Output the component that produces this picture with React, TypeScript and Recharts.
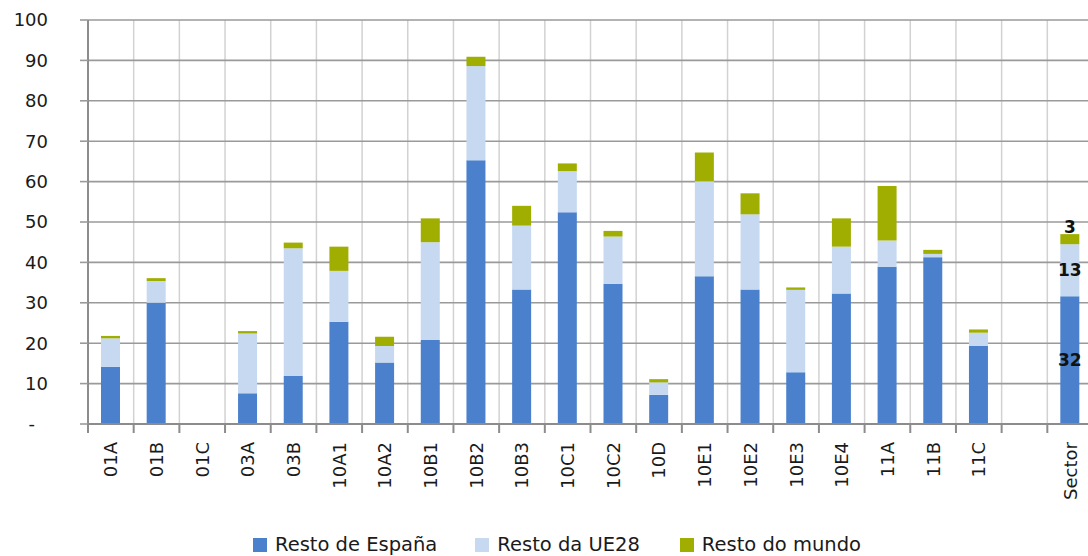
import React from "react";
import { BarChart, Bar, XAxis, YAxis, CartesianGrid, Legend, LabelList } from "recharts";

const categories = ["01A","01B","01C","03A","03B","10A1","10A2","10B1","10B2","10B3","10C1","10C2","10D","10E1","10E2","10E3","10E4","11A","11B","11C","","Sector"];
const restoEspana = [14.2,30.0,0,7.6,11.9,25.3,15.2,20.8,65.3,33.3,52.4,34.7,7.2,36.6,33.3,12.8,32.3,38.9,41.3,19.3,null,31.6];
const restoUE28 = [7.0,5.4,0,14.8,31.6,12.6,4.1,24.2,23.3,15.8,10.2,11.7,3.1,23.5,18.6,20.4,11.6,6.5,0.8,3.3,null,12.9];
const restoMundo = [0.6,0.7,0,0.6,1.4,6.0,2.3,5.9,2.3,4.9,1.9,1.4,0.8,7.1,5.2,0.6,7.0,13.5,1.0,0.8,null,2.5];
const yTicks = [0,10,20,30,40,50,60,70,80,90,100];
const labelledCategory = "Sector";

const seriesNames = ["Resto de España", "Resto da UE28", "Resto do mundo"];
const colors = ["#4A80CC", "#C6D9F1", "#9FAE00"];

const data = categories.map((c, i) => {
  const lab = c === labelledCategory;
  return {
    cat: c,
    es: restoEspana[i],
    ue: restoUE28[i],
    mu: restoMundo[i],
    esLabel: lab ? restoEspana[i] : null,
    ueLabel: lab ? restoUE28[i] : null,
    muLabel: lab ? restoMundo[i] : null,
  };
});

const FONT = "'DejaVu Sans', Verdana, sans-serif";
const CHART_W = 1100;
const CHART_H = 556;
const MARGIN = { top: 20, right: 7, left: 0, bottom: 0 };
const YAXIS_W = 88;
const STEP = (CHART_W - MARGIN.right - MARGIN.left - YAXIS_W) / categories.length;
const X_TICK_SIZE = 9;
const X_TICK_MARGIN = 9;

const XTick = (props: any) => {
  const { x, y, payload } = props;
  const bx = x - STEP / 2;
  const axisY = y - X_TICK_SIZE - X_TICK_MARGIN;
  return (
    <g>
      <line x1={bx} x2={bx} y1={axisY} y2={axisY + X_TICK_SIZE} stroke="#8c8c8c" strokeWidth={2} />
      <text
        x={x}
        y={y}
        dy="0.36em"
        transform={`rotate(-90, ${x}, ${y})`}
        textAnchor="end"
        fontFamily={FONT}
        fontSize={18}
        fill="#1a1a1a"
      >
        {payload.value}
      </text>
    </g>
  );
};

const YTick = (props: any) => {
  const { x, y, payload } = props;
  const isZero = payload.value === 0;
  return (
    <text
      x={isZero ? x - 13 : x}
      y={y}
      dy="0.36em"
      textAnchor="end"
      fontFamily={FONT}
      fontSize={18}
      fill="#1a1a1a"
    >
      {isZero ? "-" : payload.value}
    </text>
  );
};

const makeLabel = (place: "center" | "top") => (props: any) => {
  const { value } = props;
  if (value == null || value === "") return null;
  const vb = props.viewBox || {};
  const x = Number(props.x ?? vb.x);
  const y = Number(props.y ?? vb.y);
  const w = Number(props.width ?? vb.width);
  const h = Number(props.height ?? vb.height);
  if (!isFinite(x) || !isFinite(y)) return null;
  const cx = x + w / 2;
  const ty = place === "center" ? y + h / 2 : y - 1;
  return (
    <text
      x={cx}
      y={ty}
      dy={place === "center" ? "0.36em" : 0}
      textAnchor="middle"
      fontFamily={FONT}
      fontWeight="bold"
      fontSize={17}
      fill="#111"
    >
      {Math.round(Number(value))}
    </text>
  );
};

const LegendContent = () => (
  <div
    style={{
      height: 32,
      display: "flex",
      alignItems: "flex-start",
      paddingLeft: 253,
      paddingTop: 10,
      boxSizing: "border-box",
      fontFamily: FONT,
      fontSize: 19.5,
      color: "#1a1a1a",
      lineHeight: "22px",
    }}
  >
    {seriesNames.map((n, i) => (
      <div key={n} style={{ display: "flex", alignItems: "center", marginRight: i === 0 ? 38 : 40, whiteSpace: "nowrap" }}>
        <span style={{ display: "inline-block", width: 14, height: 14, background: colors[i], marginRight: 8 }} />
        <span>{n}</span>
      </div>
    ))}
  </div>
);

export default function App() {
  return (
    <div
      style={{
        position: "absolute",
        left: 0,
        top: 0,
        width: 1088,
        height: 556,
        overflow: "hidden",
        background: "#fff",
      }}
    >
      <BarChart width={CHART_W} height={CHART_H} data={data} margin={MARGIN} barSize={19}>
        <CartesianGrid
          horizontal={false}
          vertical={true}
          stroke="#d2d2d2"
          strokeWidth={1.5}
          verticalCoordinatesGenerator={(p: any) => {
            const off = p.offset || {};
            const left = off.left ?? MARGIN.left + YAXIS_W;
            const width = off.width ?? STEP * categories.length;
            return categories.map((_, i) => left + (i * width) / categories.length).slice(1);
          }}
        />
        <CartesianGrid horizontal={true} vertical={false} stroke="#9a9a9a" strokeWidth={1.6} />
        <XAxis
          dataKey="cat"
          interval={0}
          height={100}
          tickSize={X_TICK_SIZE}
          tickMargin={X_TICK_MARGIN}
          tickLine={false}
          tick={<XTick />}
          axisLine={{ stroke: "#8c8c8c", strokeWidth: 2 }}
        />
        <YAxis
          width={YAXIS_W}
          domain={[0, 100]}
          ticks={yTicks}
          interval={0}
          tickSize={8}
          tickMargin={32}
          tick={<YTick />}
          tickLine={{ stroke: "#9a9a9a", strokeWidth: 1.6 }}
          axisLine={{ stroke: "#8c8c8c", strokeWidth: 2 }}
        />
        <Legend verticalAlign="bottom" content={<LegendContent />} />
        <Bar dataKey="es" name={seriesNames[0]} stackId="a" fill={colors[0]} isAnimationActive={false}>
          <LabelList dataKey="esLabel" content={makeLabel("center")} />
        </Bar>
        <Bar dataKey="ue" name={seriesNames[1]} stackId="a" fill={colors[1]} isAnimationActive={false}>
          <LabelList dataKey="ueLabel" content={makeLabel("center")} />
        </Bar>
        <Bar dataKey="mu" name={seriesNames[2]} stackId="a" fill={colors[2]} isAnimationActive={false}>
          <LabelList dataKey="muLabel" content={makeLabel("top")} />
        </Bar>
      </BarChart>
    </div>
  );
}
